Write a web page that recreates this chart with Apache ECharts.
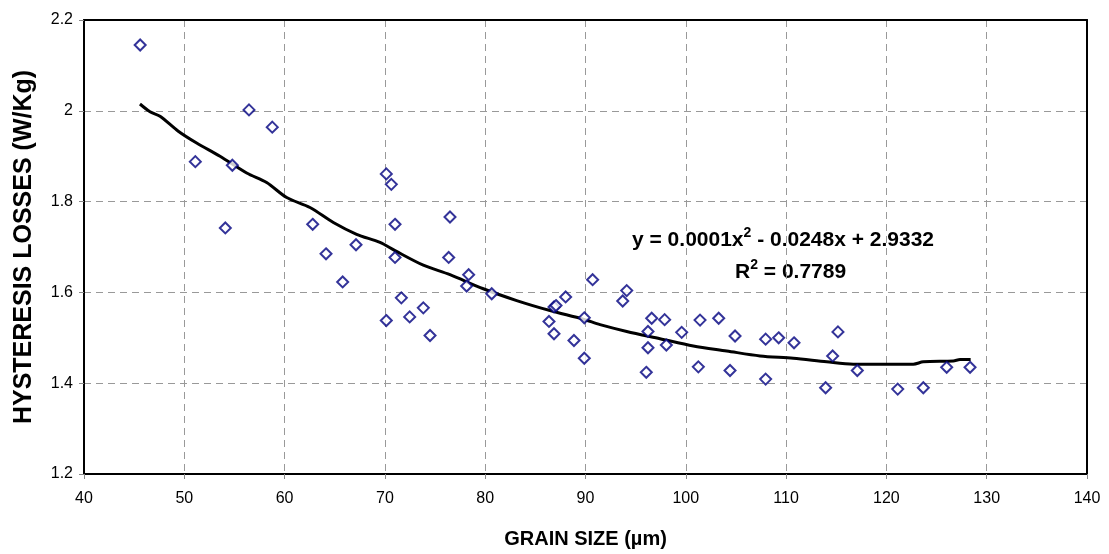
<!DOCTYPE html>
<html><head><meta charset="utf-8">
<script src="https://cdn.jsdelivr.net/npm/echarts@6/dist/echarts.min.js"></script>
<style>html,body{margin:0;padding:0;background:#fff}#c{width:1109px;height:554px}</style>
</head><body><div id="c"></div>
<script>
const grainSize = [45.6,56.45,58.77,51.1,54.79,54.09,62.8,67.12,64.13,65.79,70.14,70.64,71.01,71.01,70.14,71.64,72.47,73.83,74.5,76.49,76.36,78.35,78.15,80.65,86.36,86.86,87.06,86.86,88.02,88.85,89.88,89.88,90.71,94.11,93.71,96.6,96.23,96.23,96.06,97.89,98.06,99.59,101.42,101.25,103.28,104.91,104.41,107.96,107.96,109.26,110.79,115.17,114.64,113.94,117.1,121.13,123.68,126.01,128.34];
const losses = [2.145,2.002,1.964,1.888,1.88,1.742,1.75,1.705,1.685,1.623,1.861,1.838,1.75,1.677,1.538,1.588,1.546,1.566,1.505,1.766,1.677,1.639,1.614,1.597,1.536,1.568,1.571,1.509,1.59,1.494,1.544,1.455,1.628,1.604,1.581,1.543,1.514,1.478,1.424,1.54,1.484,1.512,1.539,1.436,1.543,1.504,1.428,1.497,1.409,1.5,1.489,1.513,1.46,1.39,1.428,1.387,1.39,1.435,1.435];
const trendX = [45.58,46.58,47.58,49.4,51.23,53.56,56.22,58.21,60.21,62.53,64.86,67.18,69.51,71.01,73.83,76.49,79.81,83.14,86.46,89.78,91.45,94.11,97.43,100.75,104.08,107.4,110.72,114.05,116.7,120.03,122.68,123.68,126.67,127.34,128.4];
const trendY = [2.015,1.998,1.988,1.955,1.929,1.9,1.863,1.842,1.809,1.787,1.754,1.728,1.71,1.692,1.66,1.639,1.608,1.582,1.56,1.541,1.529,1.514,1.498,1.482,1.471,1.46,1.455,1.447,1.442,1.442,1.442,1.447,1.449,1.452,1.452];
const equationText = ['y = 0.0001x', '2', ' - 0.0248x + 2.9332'];
const r2Text = ['R', '2', ' = 0.7789'];

const chart = echarts.init(document.getElementById('c'));
const F = '"Liberation Sans", Arial, sans-serif';
const frameAxis = {show: true, axisLine: {show: true, lineStyle: {color: '#000', width: 2}}, axisTick: {show: false}, axisLabel: {show: false}, splitLine: {show: false}};
const richStyle = {
  a: {fontSize: 21, fontWeight: 'bold', fontFamily: F, fill: '#000', verticalAlign: 'bottom'},
  s: {fontSize: 14, fontWeight: 'bold', fontFamily: F, fill: '#000', verticalAlign: 'top', padding: [0,0,11,0]}
};
chart.setOption({
  animation: false,
  textStyle: {fontFamily: F},
  grid: {left: 84, right: 22, top: 20, bottom: 78},
  xAxis: [{
    type: 'value', min: 40, max: 140, interval: 10,
    name: 'GRAIN SIZE (µm)', nameLocation: 'middle', nameGap: 55,
    nameTextStyle: {fontSize: 20, fontWeight: 'bold', color: '#000', fontFamily: F},
    axisLine: {lineStyle: {color: '#000', width: 2}},
    axisTick: {show: true, length: 5, lineStyle: {color: '#888'}},
    axisLabel: {fontSize: 16, color: '#000', margin: 17, fontFamily: F},
    splitLine: {show: true, lineStyle: {color: '#999', type: [7, 5], width: 1}}
  }, Object.assign({type: 'value', position: 'top', min: 40, max: 140}, frameAxis)],
  yAxis: [{
    type: 'value', min: 1.2, max: 2.2, interval: 0.2,
    name: 'HYSTERESIS LOSSES (W/Kg)', nameLocation: 'middle', nameGap: 47,
    nameTextStyle: {fontSize: 25, fontWeight: 'bold', color: '#000', fontFamily: F},
    axisLine: {show: true, lineStyle: {color: '#000', width: 2}},
    axisTick: {show: true, length: 5, lineStyle: {color: '#888'}},
    axisLabel: {fontSize: 16, color: '#000', margin: 11, fontFamily: F, formatter: v => String(+v.toFixed(1))},
    splitLine: {show: true, lineStyle: {color: '#999', type: [7, 5], width: 1}}
  }, Object.assign({type: 'value', position: 'right', min: 1.2, max: 2.2}, frameAxis)],
  series: [
    {
      type: 'line', data: trendX.map((x, i) => [x, trendY[i]]),
      showSymbol: false, smooth: 0.3, lineStyle: {color: '#000', width: 3}, z: 2
    },
    {
      type: 'scatter', data: grainSize.map((x, i) => [x, losses[i]]),
      symbol: 'diamond', symbolSize: 11,
      itemStyle: {color: '#fff', borderColor: '#000080', borderWidth: 2}, z: 3
    }
  ],
  graphic: [
    {type: 'text', left: 632, top: 226, style: {
      text: '{a|' + equationText[0] + '}{s|' + equationText[1] + '}{a|' + equationText[2] + '}', rich: richStyle
    }},
    {type: 'text', left: 735, top: 258, style: {
      text: '{a|' + r2Text[0] + '}{s|' + r2Text[1] + '}{a|' + r2Text[2] + '}', rich: richStyle
    }}
  ]
});
</script></body></html>
